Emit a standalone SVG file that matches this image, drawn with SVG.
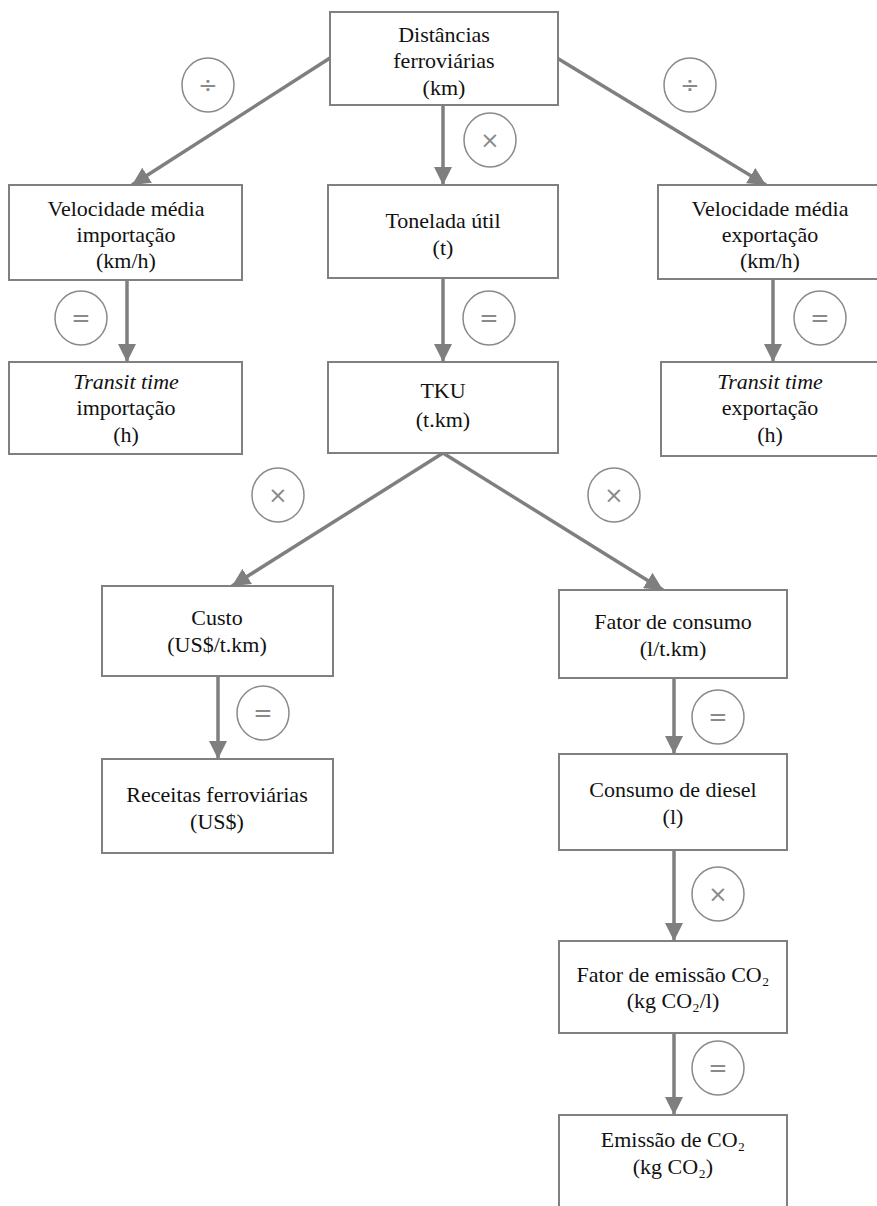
<svg xmlns="http://www.w3.org/2000/svg" width="877" height="1206" viewBox="0 0 877 1206">
<style>
.box{fill:#fff;stroke:#808080;stroke-width:2}
.t{font-family:"Liberation Serif","Times New Roman",serif;font-size:22px;fill:#111;text-anchor:middle}
.i{font-style:italic}
.ce{fill:#fff;stroke:#8a8a8a;stroke-width:1.5}
.op{font-family:"DejaVu Sans","Liberation Sans",sans-serif;font-size:23px;fill:#8a8a8a;text-anchor:middle;dominant-baseline:central}
.ln{stroke:#7f7f7f;stroke-width:3.5;fill:none;marker-end:url(#ah)}
</style>
<defs>
<marker id="ah" viewBox="0 0 18 18" markerUnits="userSpaceOnUse" markerWidth="18" markerHeight="18" refX="18" refY="9" orient="auto">
<path d="M0,0 L18,9 L0,18 z" fill="#7f7f7f"/>
</marker>
</defs>
<rect width="877" height="1206" fill="#fff"/>
<g id="connectors">
<line class="ln" x1="330" y1="58" x2="132" y2="185"/>
<line class="ln" x1="443" y1="105" x2="443" y2="185"/>
<line class="ln" x1="557" y1="58" x2="766" y2="185"/>
<line class="ln" x1="127" y1="280" x2="127" y2="362"/>
<line class="ln" x1="443" y1="278" x2="443" y2="362"/>
<line class="ln" x1="773" y1="279" x2="773" y2="362"/>
<line class="ln" x1="443" y1="453" x2="232" y2="586"/>
<line class="ln" x1="443" y1="453" x2="663" y2="590"/>
<line class="ln" x1="218" y1="676" x2="218" y2="759"/>
<line class="ln" x1="674" y1="678" x2="674" y2="754"/>
<line class="ln" x1="674" y1="850" x2="674" y2="941"/>
<line class="ln" x1="674" y1="1033" x2="674" y2="1115"/>
</g>
<g id="operators">
<g><ellipse class="ce" cx="208" cy="85" rx="26" ry="27"/><text class="op" x="208" y="85">÷</text></g>
<g><ellipse class="ce" cx="490" cy="140" rx="26" ry="27"/><text class="op" x="490" y="140">×</text></g>
<g><ellipse class="ce" cx="690" cy="85" rx="26" ry="27"/><text class="op" x="690" y="85">÷</text></g>
<g><ellipse class="ce" cx="81" cy="318" rx="26" ry="27"/><text class="op" x="81" y="318">=</text></g>
<g><ellipse class="ce" cx="489" cy="318" rx="26" ry="27"/><text class="op" x="489" y="318">=</text></g>
<g><ellipse class="ce" cx="820" cy="318" rx="26" ry="27"/><text class="op" x="820" y="318">=</text></g>
<g><ellipse class="ce" cx="278" cy="495" rx="26" ry="27"/><text class="op" x="278" y="495">×</text></g>
<g><ellipse class="ce" cx="614" cy="495" rx="26" ry="27"/><text class="op" x="614" y="495">×</text></g>
<g><ellipse class="ce" cx="263" cy="713" rx="26" ry="27"/><text class="op" x="263" y="713">=</text></g>
<g><ellipse class="ce" cx="718" cy="717" rx="26" ry="27"/><text class="op" x="718" y="717">=</text></g>
<g><ellipse class="ce" cx="718" cy="894" rx="26" ry="27"/><text class="op" x="718" y="894">×</text></g>
<g><ellipse class="ce" cx="718" cy="1068" rx="26" ry="27"/><text class="op" x="718" y="1068">=</text></g>
</g>
<g id="n-distancias"><rect class="box" x="330" y="12" width="228" height="93"/>
<text class="t" x="444" y="42">Distâncias</text><text class="t" x="444" y="68">ferroviárias</text><text class="t" x="444" y="95">(km)</text></g>
<g id="n-vel-imp"><rect class="box" x="9" y="185" width="233" height="95"/>
<text class="t" x="126" y="216">Velocidade média</text><text class="t" x="126" y="242">importação</text><text class="t" x="126" y="268">(km/h)</text></g>
<g id="n-tonelada"><rect class="box" x="328" y="185" width="230" height="93"/>
<text class="t" x="443" y="228">Tonelada útil</text><text class="t" x="443" y="255">(t)</text></g>
<g id="n-vel-exp"><rect class="box" x="658" y="185" width="225" height="94"/>
<text class="t" x="770" y="216">Velocidade média</text><text class="t" x="770" y="242">exportação</text><text class="t" x="770" y="268">(km/h)</text></g>
<g id="n-transit-imp"><rect class="box" x="9" y="362" width="233" height="92"/>
<text class="t i" x="126" y="389">Transit time</text><text class="t" x="126" y="415">importação</text><text class="t" x="126" y="442">(h)</text></g>
<g id="n-tku"><rect class="box" x="328" y="362" width="230" height="91"/>
<text class="t" x="443" y="398">TKU</text><text class="t" x="443" y="427">(t.km)</text></g>
<g id="n-transit-exp"><rect class="box" x="661" y="362" width="222" height="94"/>
<text class="t i" x="770" y="389">Transit time</text><text class="t" x="770" y="415">exportação</text><text class="t" x="770" y="442">(h)</text></g>
<g id="n-custo"><rect class="box" x="102" y="586" width="231" height="90"/>
<text class="t" x="217" y="625">Custo</text><text class="t" x="217" y="652">(US$/t.km)</text></g>
<g id="n-fator-consumo"><rect class="box" x="559" y="590" width="228" height="88"/>
<text class="t" x="673" y="629">Fator de consumo</text><text class="t" x="673" y="656">(l/t.km)</text></g>
<g id="n-receitas"><rect class="box" x="102" y="759" width="231" height="94"/>
<text class="t" x="217" y="802">Receitas ferroviárias</text><text class="t" x="217" y="829">(US$)</text></g>
<g id="n-consumo-diesel"><rect class="box" x="559" y="754" width="228" height="96"/>
<text class="t" x="673" y="797">Consumo de diesel</text><text class="t" x="673" y="824">(l)</text></g>
<g id="n-fator-emissao"><rect class="box" x="559" y="941" width="228" height="92"/>
<text class="t" x="673" y="982">Fator de emissão CO₂</text><text class="t" x="673" y="1008">(kg CO₂/l)</text></g>
<g id="n-emissao"><rect class="box" x="559" y="1115" width="228" height="100"/>
<text class="t" x="673" y="1147">Emissão de CO₂</text><text class="t" x="673" y="1174">(kg CO₂)</text></g>
</svg>
